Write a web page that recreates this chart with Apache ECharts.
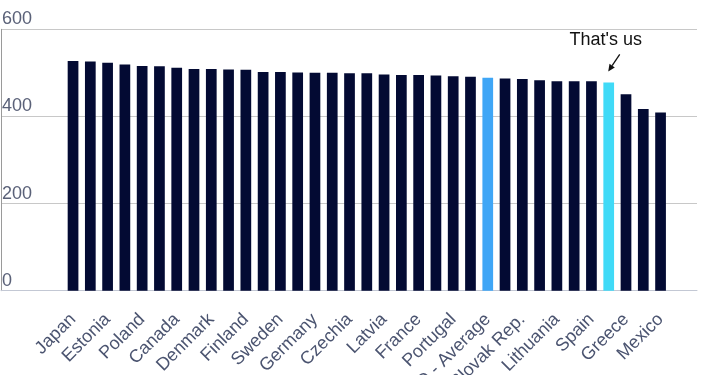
<!DOCTYPE html>
<html>
<head>
<meta charset="utf-8">
<script src="https://cdn.jsdelivr.net/npm/echarts@6/dist/echarts.min.js"></script>
<style>
html,body{margin:0;padding:0;background:#fff;}
#chart{width:710px;height:375px;}
</style>
</head>
<body>
<div id="chart"></div>
<script>
var countries = ['Japan','Korea','Estonia','Netherlands','Poland','Switzerland','Canada','Slovenia','Denmark','Belgium',
  'Finland','United Kingdom','Sweden','Norway','Germany','Ireland','Czechia','Austria','Latvia','Iceland',
  'France','New Zealand','Portugal','Australia','OECD - Average','Italy','Slovak Rep.','Luxembourg','Lithuania','Hungary',
  'Spain','United States','Greece','Chile','Mexico'];
var scores = [527,526,523,519,516,515,512,509,509,508,
  507,502,502,501,500,500,499,499,496,495,
  495,494,492,491,489,487,486,483,481,481,
  481,478,451,417,409];
var yTicks = [0,200,400,600];
var averageName = 'OECD - Average';
var usName = 'United States';
var annotationText = "That's us";

(function () {
var NAVY = '#030a33', AVG = '#3fa6f6', US = '#40daf7';
var FONT = 'Liberation Sans, Arial, Helvetica, sans-serif';

var barData = countries.map(function (c, i) {
  var col = c === averageName ? AVG : (c === usName ? US : NAVY);
  return { value: scores[i], itemStyle: { color: col } };
});

var chart = echarts.init(document.getElementById('chart'), null, { renderer: 'canvas' });
var gTop = 29.3, gHeight = 261.4;
chart.setOption({
  animation: false,
  backgroundColor: '#fff',
  grid: [
    { left: 1, right: 13, top: gTop, height: gHeight, containLabel: false, outerBoundsMode: 'none' },
    { left: 64.4, width: 604.8, top: gTop, height: gHeight, containLabel: false, outerBoundsMode: 'none' }
  ],
  xAxis: [
    { gridIndex: 0, type: 'value', min: 0, max: 1, show: true,
      axisLine: { show: true, lineStyle: { color: '#c3c8d4', width: 1 } },
      axisTick: { show: false }, axisLabel: { show: false }, splitLine: { show: false } },
    { gridIndex: 1, type: 'category', data: countries,
      axisLine: { show: false }, axisTick: { show: false },
      axisLabel: { interval: 1, rotate: 45, margin: 26, fontSize: 18, color: '#4b5470', fontFamily: FONT,
        hideOverlap: false }
    }
  ],
  yAxis: [
    { gridIndex: 0, type: 'value', min: yTicks[0], max: yTicks[yTicks.length - 1], interval: 200,
      axisLine: { show: true, lineStyle: { color: '#9a9a9a', width: 1 } },
      axisTick: { show: false },
      splitLine: { show: true, lineStyle: { color: '#c8c8c8', width: 1 } },
      axisLabel: { inside: true, margin: 1, fontSize: 18, color: '#5a6178', fontFamily: FONT,
        verticalAlign: 'bottom', align: 'left', padding: [0, 0, 1, 0] } },
    { gridIndex: 1, type: 'value', min: yTicks[0], max: yTicks[yTicks.length - 1], show: false,
      splitLine: { show: false } }
  ],
  series: [{
    type: 'bar', xAxisIndex: 1, yAxisIndex: 1, data: barData,
    barWidth: '62%'
  }]
});

var p = chart.convertToPixel({ seriesIndex: 0 }, [usName, scores[countries.indexOf(usName)]]);
var bx = p[0], by = p[1];
var sx = bx + 11, sy = by - 28, ex = bx - 0.5, ey = by - 11;
var ang = Math.atan2(ey - sy, ex - sx);
var L = 7, W = 3.2;
var hx = ex - L * Math.cos(ang), hy = ey - L * Math.sin(ang);
var nx = -Math.sin(ang), ny = Math.cos(ang);
chart.setOption({
  graphic: [
    { type: 'text', x: bx - 3, y: by - 42, style: { text: annotationText, fill: '#111', font: '18px ' + FONT,
        align: 'center', verticalAlign: 'middle' } },
    { type: 'line', shape: { x1: sx, y1: sy, x2: hx, y2: hy }, style: { stroke: '#111', lineWidth: 1.3 } },
    { type: 'polygon', shape: { points: [[ex, ey], [hx + nx * W, hy + ny * W], [hx - nx * W, hy - ny * W]] },
      style: { fill: '#111' } }
  ]
});
})();
</script>
</body>
</html>
